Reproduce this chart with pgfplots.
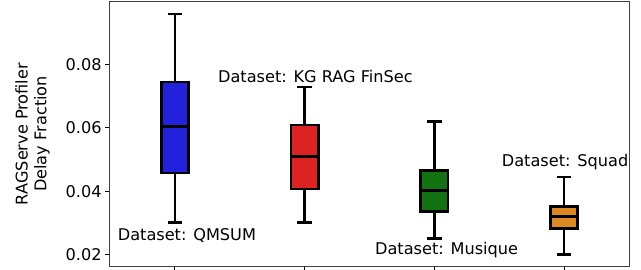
\documentclass[border=0pt]{standalone}
\usepackage{fontspec}
\setmainfont{DejaVu Sans}
\usepackage{pgfplots}
\pgfplotsset{compat=1.18}
\usepgfplotslibrary{statistics}
\definecolor{cblue}{RGB}{34,34,221}
\definecolor{cred}{RGB}{221,34,34}
\definecolor{cgreen}{RGB}{18,114,18}
\definecolor{corange}{RGB}{221,136,34}
\newcommand{\fs}{\fontsize{16.2}{19}\selectfont}
\begin{document}
\begin{tikzpicture}
\begin{axis}[
  scale only axis,
  width=519bp, height=264bp,
  xmin=0.5, xmax=4.5,
  ymin=0.0165, ymax=0.0996,
  xtick={1,2,3,4}, xticklabels={},
  ytick={0.02,0.04,0.06,0.08},
  scaled y ticks=false,
  yticklabel style={/pgf/number format/.cd, fixed, fixed zerofill, precision=2, /pgf/number format/assume math mode=true},
  tick label style={font=\fs},
  tick align=outside, tick pos=left,
  major tick length=4.9bp,
  every tick/.style={black, line width=0.8bp},
  axis line style={black!75, line width=1bp},
  ylabel={RAGServe Profiler\\Delay Fraction},
  ylabel style={font=\fs, align=center, yshift=9bp},
  boxplot/draw direction=y,
]
\addplot[boxplot prepared={median=0.0605, upper quartile=0.0744, lower quartile=0.0458, upper whisker=0.0958, lower whisker=0.0301, draw position=1, box extend=0.21, whisker extend=0.11}, fill=cblue, draw=black, line width=2.6bp] coordinates {};
\addplot[boxplot prepared={median=0.0510, upper quartile=0.0609, lower quartile=0.0407, upper whisker=0.0729, lower whisker=0.0301, draw position=2, box extend=0.21, whisker extend=0.11}, fill=cred, draw=black, line width=2.6bp] coordinates {};
\addplot[boxplot prepared={median=0.0403, upper quartile=0.0466, lower quartile=0.0336, upper whisker=0.0619, lower whisker=0.0252, draw position=3, box extend=0.21, whisker extend=0.11}, fill=cgreen, draw=black, line width=2.6bp] coordinates {};
\addplot[boxplot prepared={median=0.0320, upper quartile=0.0353, lower quartile=0.0283, upper whisker=0.0445, lower whisker=0.0202, draw position=4, box extend=0.21, whisker extend=0.11}, fill=corange, draw=black, line width=2.6bp] coordinates {};
\node[anchor=west, inner sep=0, font=\fs] at (axis cs:0.559,0.0260) {Dataset: QMSUM};
\node[anchor=west, inner sep=0, font=\fs] at (axis cs:1.332,0.0763) {Dataset: KG RAG FinSec};
\node[anchor=west, inner sep=0, font=\fs] at (axis cs:2.542,0.0214) {Dataset: Musique};
\node[anchor=west, inner sep=0, font=\fs] at (axis cs:3.519,0.0493) {Dataset: Squad};
\end{axis}
\pgfresetboundingbox
\path ([xshift=-110bp,yshift=-3bp]current axis.south west) rectangle ([xshift=12bp,yshift=2bp]current axis.north east);
\end{tikzpicture}
\end{document}
